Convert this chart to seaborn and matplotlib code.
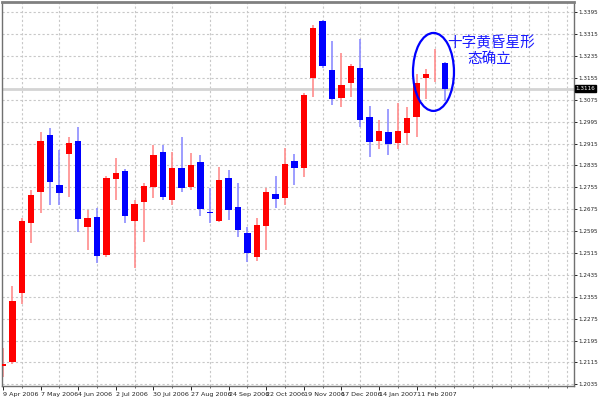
import matplotlib
matplotlib.use("Agg")
import matplotlib.pyplot as plt
import seaborn as sns
import pandas as pd
from matplotlib.patches import Ellipse

# ---- data (weekly EUR/USD candles) ----
opens = [1.2102, 1.2117, 1.2369, 1.2625, 1.2738, 1.2946, 1.2764, 1.2877, 1.2925, 1.2610,
         1.2647, 1.2508, 1.2786, 1.2815, 1.2632, 1.2701, 1.2756, 1.2884, 1.2709, 1.2826,
         1.2756, 1.2848, 1.2665, 1.2632, 1.2789, 1.2683, 1.2588, 1.2500, 1.2614, 1.2731,
         1.2716, 1.2851, 1.2826, 1.3155, 1.3363, 1.3184, 1.3082, 1.3137, 1.3191, 1.3012,
         1.2925, 1.2957, 1.2917, 1.2954, 1.3012, 1.3155, 1.3190, 1.3210]
highs = [1.2168, 1.2394, 1.2643, 1.2745, 1.2957, 1.2972, 1.2892, 1.2939, 1.2976, 1.2672,
         1.2680, 1.2797, 1.2862, 1.2822, 1.2709, 1.2771, 1.2910, 1.2910, 1.2884, 1.2939,
         1.2881, 1.2873, 1.2753, 1.2829, 1.2818, 1.2771, 1.2610, 1.2643, 1.2753, 1.2797,
         1.2899, 1.2877, 1.3100, 1.3349, 1.3367, 1.3290, 1.3246, 1.3206, 1.3297, 1.3052,
         1.3001, 1.3042, 1.3063, 1.3049, 1.3169, 1.3188, 1.3261, 1.3213]
lows = [1.2062, 1.2110, 1.2329, 1.2552, 1.2661, 1.2691, 1.2691, 1.2720, 1.2592, 1.2526,
        1.2478, 1.2500, 1.2709, 1.2625, 1.2460, 1.2555, 1.2716, 1.2709, 1.2691, 1.2738,
        1.2745, 1.2650, 1.2625, 1.2628, 1.2636, 1.2574, 1.2482, 1.2486, 1.2526, 1.2680,
        1.2691, 1.2764, 1.2793, 1.3085, 1.3191, 1.3056, 1.3049, 1.3085, 1.2976, 1.2866,
        1.2895, 1.2873, 1.2895, 1.2910, 1.2939, 1.3078, 1.3140, 1.3071]
closes = [1.2109, 1.2340, 1.2632, 1.2727, 1.2925, 1.2775, 1.2734, 1.2917, 1.2639, 1.2643,
          1.2504, 1.2789, 1.2808, 1.2650, 1.2694, 1.2760, 1.2873, 1.2720, 1.2826, 1.2753,
          1.2837, 1.2676, 1.2661, 1.2782, 1.2672, 1.2599, 1.2515, 1.2617, 1.2738, 1.2712,
          1.2840, 1.2826, 1.3093, 1.3338, 1.3199, 1.3078, 1.3129, 1.3199, 1.3001, 1.2921,
          1.2961, 1.2914, 1.2961, 1.3009, 1.3137, 1.3169, 1.3193, 1.3115]

date_labels = ["9 Apr 2006", "7 May 2006", "4 Jun 2006", "2 Jul 2006", "30 Jul 2006",
               "27 Aug 2006", "24 Sep 2006", "22 Oct 2006", "19 Nov 2006", "17 Dec 2006",
               "14 Jan 2007", "11 Feb 2007"]
date_label_weeks = [0, 4, 8, 12, 16, 20, 24, 28, 32, 36, 40, 44]
price_ticks = [1.2035, 1.2115, 1.2195, 1.2275, 1.2355, 1.2435, 1.2515, 1.2595, 1.2675,
               1.2755, 1.2835, 1.2915, 1.2995, 1.3075, 1.3155, 1.3235, 1.3315, 1.3395]
last_price = 1.3116
note_lines = ["十字黄昏星形", "态确立"]

df = pd.DataFrame({"open": opens, "high": highs, "low": lows, "close": closes})
df["week"] = range(len(df))
df["up"] = df["close"] >= df["open"]

sns.set_style("white")
plt.rcParams["font.family"] = ["Liberation Sans Narrow", "DejaVu Sans"]
small = 4.1

fig = plt.figure(figsize=(6, 4), dpi=100, facecolor="white")
ax = fig.add_axes([2 / 600, 14 / 400, 572 / 600, 384 / 400])

# grid
ax.set_xticks(range(0, 62, 2), minor=True)
ax.set_yticks(price_ticks)
ax.grid(True, which="minor", axis="x", linestyle=(0, (2, 2)), color="#c8c8c8", linewidth=0.8)
ax.grid(True, which="major", axis="y", linestyle=(0, (2, 2)), color="#c8c8c8", linewidth=0.8)
ax.set_axisbelow(True)

# current price line
ax.axhline(last_price, color="#d4d4d4", linewidth=2.0, zorder=1)

red_body, blue_body = "#ff0000", "#0000ff"
red_wick, blue_wick = "#ff8c8c", "#8c8cff"
for up, sub in df.groupby("up"):
    ax.vlines(sub["week"], sub["low"], sub["high"],
              color=red_wick if up else blue_wick, linewidth=1.2, zorder=2)
    bottoms = sub[["open", "close"]].min(axis=1)
    heights = (sub["close"] - sub["open"]).abs().clip(lower=0.00025)
    ax.bar(sub["week"], heights, bottom=bottoms, width=0.68,
           color=red_body if up else blue_body, edgecolor="none", zorder=3)

ax.set_xlim(-0.106, 60.75)
ax.set_ylim(1.20288, 1.34327)

# axes styling
ax.yaxis.tick_right()
ax.set_yticklabels([f"{v:.4f}" for v in price_ticks])
ax.tick_params(axis="y", which="major", right=True, length=2.2, width=0.7, pad=0.8,
               labelsize=small, colors="#222222")
ax.set_xticks(date_label_weeks)
ax.set_xticklabels(date_labels)
for lab in ax.get_xticklabels():
    lab.set_horizontalalignment("left")
ax.tick_params(axis="x", which="major", bottom=True, length=3, width=0.7, pad=1.5,
               labelsize=4.6, colors="#222222")
ax.tick_params(axis="x", which="minor", bottom=True, length=1.5, width=0.5)
for side, sp in ax.spines.items():
    sp.set_color("#707070")
    sp.set_linewidth(1.0)
ax.spines["top"].set_linewidth(2.0)
ax.spines["top"].set_color("#808080")

# current price tag
ax.annotate(f"{last_price:.4f}", xy=(1.0, last_price), xycoords=("axes fraction", "data"),
            xytext=(1.2, 0), textcoords="offset points", ha="left", va="center",
            fontsize=small, color="white",
            bbox=dict(boxstyle="square,pad=0.12", fc="black", ec="black"))

# annotation: ellipse + text
ax.add_patch(Ellipse((45.8, 1.3177), width=4.36, height=0.0285, fill=False,
                     edgecolor="#0000ff", linewidth=1.6, zorder=5))
ax.text(51.9, 1.3280, note_lines[0], ha="center", va="center", fontsize=10.5,
        color="#1a1aff", family=["Noto Sans CJK SC", "DejaVu Sans"], zorder=6)
ax.text(51.7, 1.3225, note_lines[1], ha="center", va="center", fontsize=10.5,
        color="#1a1aff", family=["Noto Sans CJK SC", "DejaVu Sans"], zorder=6)

fig.savefig("out.png", dpi=100, facecolor="white")
